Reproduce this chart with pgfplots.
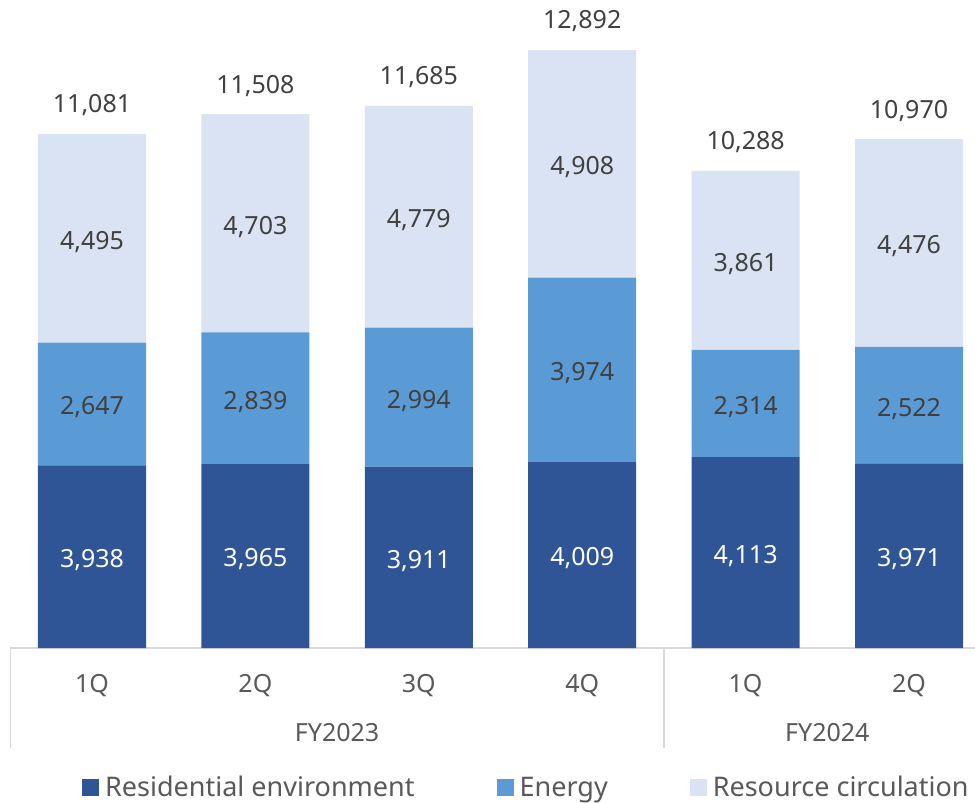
\documentclass[border=0pt]{standalone}
\usepackage{pgfplots}
\pgfplotsset{compat=1.18}
\usepackage{pgfplotstable}
\usepackage{fontspec}
\setmainfont{Noto Sans}
\definecolor{cRes}{HTML}{2F5597}
\definecolor{cEne}{HTML}{5B9BD5}
\definecolor{cRec}{HTML}{DAE3F3}
\definecolor{cGrid}{HTML}{D9D9D9}
\definecolor{cTick}{HTML}{595959}
\definecolor{cLab}{HTML}{404040}

\pgfplotstableread{
x res ene rec total
0 3938 2647 4495 11081
1 3965 2839 4703 11508
2 3911 2994 4779 11685
3 4009 3974 4908 12892
4 4113 2314 3861 10288
5 3971 2522 4476 10970
}\datatable

\pgfplotsset{commonaxis/.style={scale only axis, width=964.7pt, height=648pt,
  xmin=-0.5, xmax=5.404, ymin=0, ymax=13969}}

\begin{document}
\begin{tikzpicture}
\begin{axis}[commonaxis, ybar stacked, bar width=108pt,
  axis y line=none, axis x line=bottom,
  x axis line style={draw=cGrid, line width=2.5pt, -},
  xtick={0,...,5}, xticklabels={1Q,2Q,3Q,4Q,1Q,2Q}, major tick length=0pt,
  xticklabel style={anchor=base, yshift=-44pt, font=\fontsize{25}{30}\selectfont, text=cTick},
  clip=false,
  legend columns=3,
  legend style={at={(axis description cs:0.0743,-0.2315)}, anchor=south west,
    draw=none, fill=none, inner sep=0pt, font=\fontsize{27}{32}\selectfont, text=cTick,
    nodes={inner sep=0pt}, cells={anchor=base west},
    /tikz/every odd column/.append style={column sep=6pt},
    /tikz/every even column/.append style={column sep=82pt}},
  legend image code/.code={\fill[#1] (0pt,0pt) rectangle (17pt,17pt);},
]
\addplot[fill=cRes, draw=none] table[x=x, y=res]{\datatable};
\addlegendentry{Residential environment}
\addplot[fill=cEne, draw=none] table[x=x, y=ene]{\datatable};
\addlegendentry{Energy}
\addplot[fill=cRec, draw=none] table[x=x, y=rec]{\datatable};
\addlegendentry{Resource circulation}
\draw[cGrid, line width=1.5pt] (axis cs:-0.5,0) -- ([yshift=-100pt]axis cs:-0.5,0);
\draw[cGrid, line width=1.5pt] (axis cs:3.5,0) -- ([yshift=-100pt]axis cs:3.5,0);
\node[anchor=base, font=\fontsize{25}{30}\selectfont, text=cTick] at ([yshift=-93pt]axis cs:1.5,0) {FY2023};
\node[anchor=base, font=\fontsize{25}{30}\selectfont, text=cTick] at ([yshift=-93pt]axis cs:4.5,0) {FY2024};
\end{axis}
\begin{axis}[commonaxis, hide axis, clip=false, point meta=explicit,
  /pgf/number format/1000 sep={,}, /pgf/number format/assume math mode=true]
\addplot[draw=none, mark=none, nodes near coords,
  every node near coord/.append style={anchor=base, yshift=-10.9pt, font=\fontsize{25}{30}\selectfont, text=white}]
  table[x=x, y expr=\thisrow{res}/2, meta=res]{\datatable};
\addplot[draw=none, mark=none, nodes near coords,
  every node near coord/.append style={anchor=base, yshift=-10.9pt, font=\fontsize{25}{30}\selectfont, text=cLab}]
  table[x=x, y expr=\thisrow{res}+\thisrow{ene}/2, meta=ene]{\datatable};
\addplot[draw=none, mark=none, nodes near coords,
  every node near coord/.append style={anchor=base, yshift=-10.9pt, font=\fontsize{25}{30}\selectfont, text=cLab}]
  table[x=x, y expr=\thisrow{res}+\thisrow{ene}+\thisrow{rec}/2, meta=rec]{\datatable};
\addplot[draw=none, mark=none, nodes near coords,
  every node near coord/.append style={anchor=base, yshift=21pt, font=\fontsize{25}{30}\selectfont, text=cLab}]
  table[x=x, y=total, meta=total]{\datatable};
\end{axis}
\pgfresetboundingbox
\path ([xshift=-10.3pt,yshift=-154pt]current axis.south west) rectangle (current axis.north east);
\end{tikzpicture}
\end{document}
